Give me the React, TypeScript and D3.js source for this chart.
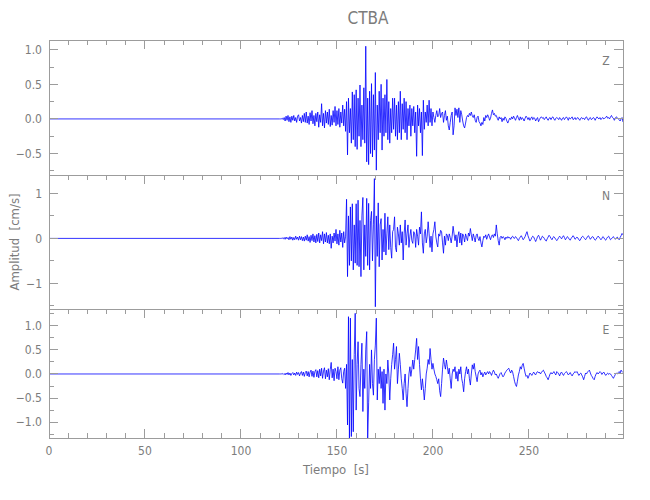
import React from "react";
import * as d3 from "d3";

// ---------------- data ----------------
const TITLE = "CTBA";
const X_LABEL = "Tiempo  [s]";
const Y_LABEL = "Amplitud  [cm/s]";
const COMPONENTS = ["Z", "N", "E"];
const X_TICKS = [0, 50, 100, 150, 200, 250];
const X_DOMAIN = [0, 299];

// record start (flat, pre-event) and sampled window
const T_RECORD_START = 0;
const T_START = 120;
const DT = 0.5;

const zValues = [
  0, 0, 0, 0.01, -0.01, 0.02, -0.03, 0.04, -0.02, 0.05, -0.04, 0.03, -0.05, 0.04, -0.02, 0.05, -0.03, 0.02, -0.05, 0.04,
  0.06, -0.03, 0.02, -0.06, 0.05, -0.04, 0.08, -0.05, 0.1, -0.06, 0.04, -0.08, 0.09, -0.03, 0.12, -0.07, 0.05, -0.1, 0.08, -0.04,
  0.1, -0.12, 0.06, -0.05, 0.22, -0.1, 0.08, -0.13, 0.12, -0.06, 0.1, -0.08, 0.14, -0.11, 0.05, -0.09, 0.12, -0.05, 0.18, -0.1,
  0.12, -0.08, 0.15, -0.12, 0.1, -0.06, 0.2, -0.1, 0.14, -0.18, 0.25, -0.52, 0.3, -0.2, 0.15, -0.35, 0.39, -0.3, 0.35, -0.4,
  0.42, -0.44, 0.3, -0.25, 0.49, -0.4, 0.2, -0.3, 0.45, -0.35, 1.05, -0.62, 0.3, -0.66, 0.4, -0.5, 0.51, -0.55, 0.35, -0.45,
  0.67, -0.74, 0.2, -0.3, 0.4, -0.2, 0.5, -0.45, 0.3, -0.25, 0.35, -0.2, 0.57, -0.3, 0.25, -0.35, 0.15, -0.2, 0.3, -0.15,
  0.3, -0.25, 0.2, -0.3, 0.25, -0.2, 0.4, -0.3, 0.22, -0.15, 0.3, -0.2, 0.25, -0.3, 0.15, -0.1, 0.2, -0.25, 0.15, -0.1,
  0.18, -0.2, 0.1, -0.54, 0.2, -0.1, 0.15, -0.2, 0.1, -0.53, 0.27, -0.15, 0.1, -0.05, 0.2, -0.1, 0.27, -0.05, 0.15, -0.1,
  0.1, 0.02, -0.05, 0.05, 0.12, 0.03, 0.05, 0.15, 0.02, 0.08, 0.1, -0.05, 0.05, 0.12, -0.02, 0.04, -0.1, -0.16, -0.05, 0.05,
  0.1, -0.23, -0.1, 0.16, 0.05, 0.14, 0.02, 0.16, -0.05, 0.12, 0.06, -0.03, -0.1, -0.13, -0.06, 0.02, 0.05, 0.03, 0.08, 0.05,
  0.1, 0.04, 0.02, 0.06, -0.02, -0.05, 0.02, 0.04, -0.04, -0.06, -0.1, -0.05, -0.08, 0.02, -0.03, 0.05, 0.02, 0.06, 0.03, -0.02,
  0.01, 0.08, 0.13, 0.06, 0.08, 0.04, 0.05, 0.01, -0.02, 0.03, 0.0, 0.02, -0.04, 0.01, -0.02, 0.03, 0.01, -0.03, -0.06, -0.02,
  0.01, -0.01, 0.03, 0.0, 0.04, 0.01, -0.02, 0.02, 0.05, 0.01, -0.02, 0.03, -0.01, 0.02, 0.0, -0.03, 0.01, 0.04, 0.02, -0.01,
  0.02, -0.02, 0.01, 0.03, -0.01, 0.02, 0.01, -0.03, 0.0, 0.02, -0.04, -0.01, 0.02, 0.03, 0.01, 0.02, -0.01, 0.01, 0.03, 0.0,
  -0.02, 0.01, 0.02, -0.01, 0.02, 0.03, 0.0, -0.02, 0.01, 0.02, 0.01, -0.01, 0.02, 0.0, -0.02, 0.01, 0.02, -0.01, 0.01, 0.03,
  0.01, -0.02, 0.02, 0.0, 0.01, 0.03, -0.01, 0.0, 0.02, -0.01, 0.01, 0.02, 0.0, -0.02, 0.01, 0.02, 0.0, 0.01, -0.01, 0.02,
  0.03, 0.0, -0.02, 0.01, 0.02, -0.01, 0.0, 0.02, 0.01, -0.02, 0.01, 0.03, 0.01, 0.0, 0.02, -0.01, 0.01, 0.02, 0.0, 0.01,
  0.02, 0.04, 0.01, 0.02, 0.0, 0.03, 0.05, 0.02, 0.01, -0.02, 0.01, 0.03, 0.02, 0.0, -0.01, -0.03, 0.0, 0.02, -0.04, 0.0,
];

const nValues = [
  0, 0, 0, 0.01, -0.01, 0.02, -0.02, 0.03, -0.01, 0.02, -0.03, 0.04, -0.02, 0.03, -0.04, 0.02, -0.03, 0.05, -0.02, 0.03,
  -0.04, 0.05, -0.03, 0.04, -0.05, 0.03, -0.06, 0.05, -0.04, 0.08, -0.06, 0.04, -0.09, 0.07, -0.05, 0.1, -0.08, 0.06, -0.1, 0.09,
  -0.07, 0.12, -0.1, 0.08, -0.05, 0.15, -0.12, 0.1, -0.08, 0.13, -0.1, 0.07, -0.12, 0.1, -0.22, 0.05, -0.1, 0.12, -0.06, 0.2,
  -0.12, 0.1, -0.15, 0.18, -0.08, 0.12, -0.2, 0.15, -0.1, 0.05, 0.87, -0.85, 0.5, -0.6, 0.7, -0.5, 0.77, -0.7, 0.3, -0.55,
  0.77, -0.6, 0.85, -0.63, 0.4, -0.85, 0.5, 0.91, -0.7, 0.3, -0.4, 0.89, -0.6, 0.78, -0.7, 0.4, 0.6, -0.5, 0.3, 1.33,
  -1.52, 0.5, -0.4, 0.79, -0.63, 0.3, 0.44, -0.48, 0.2, -0.3, 0.56, -0.37, 0.1, 0.48, -0.25, 0.3, -0.2, -0.44, 0.15, 0.2,
  0.48, -0.2, -0.3, 0.25, 0.1, -0.15, 0.3, -0.1, 0.15, -0.48, 0.1, 0.41, -0.15, 0.1, 0.3, -0.2, 0.05, 0.2, -0.05, -0.11,
  0.15, 0.1, -0.2, 0.2, 0.05, -0.15, 0.25, 0.1, 0.59, -0.1, -0.33, 0.1, 0.2, -0.1, 0.05, 0.37, 0.1, -0.2, 0.05, -0.3,
  0.1, 0.2, 0.37, 0.05, -0.1, -0.19, 0.1, 0.05, 0.18, 0.15, -0.1, -0.33, 0.05, -0.15, 0.1, 0.07, -0.05, 0.1, 0.02, -0.1,
  0.05, 0.27, 0.1, -0.05, 0.08, -0.19, 0.05, 0.15, -0.1, 0.12, -0.15, 0.1, 0.05, -0.08, 0.1, 0.02, -0.05, 0.12, 0.05, 0.22,
  0.08, -0.05, 0.1, 0.02, -0.08, 0.06, 0.1, 0.0, -0.05, 0.04, -0.1, -0.19, -0.05, 0.05, 0.02, 0.08, -0.02, 0.05, 0.1, 0.03,
  -0.03, 0.05, 0.08, 0.02, 0.1, 0.05, 0.3, 0.1, -0.05, -0.15, 0.02, 0.05, 0.0, 0.04, 0.02, -0.03, 0.03, 0.0, 0.04, 0.01,
  0.02, -0.02, 0.03, 0.05, 0.01, 0.0, 0.04, 0.02, -0.02, -0.05, 0.0, 0.03, 0.06, 0.02, -0.03, 0.0, 0.04, 0.1, 0.15, 0.06,
  0.0, -0.06, -0.03, 0.02, 0.05, 0.03, -0.02, -0.07, -0.02, 0.04, 0.07, 0.02, -0.04, 0.0, 0.05, 0.03, 0.0, -0.04, -0.06, -0.01,
  0.03, 0.07, 0.04, 0.0, -0.03, 0.02, 0.04, 0.01, -0.02, -0.05, -0.02, 0.02, 0.05, 0.02, -0.01, 0.03, 0.06, 0.02, -0.03, 0.0,
  0.04, 0.02, -0.02, -0.04, 0.0, 0.03, 0.06, 0.03, -0.02, 0.0, 0.03, 0.01, -0.03, -0.05, -0.01, 0.03, 0.05, 0.02, 0.0, -0.03,
  0.0, 0.04, 0.06, 0.02, -0.02, 0.01, 0.04, 0.03, -0.01, -0.04, -0.02, 0.02, 0.05, 0.03, 0.0, -0.03, 0.0, 0.04, 0.02, -0.02,
  -0.04, 0.0, 0.03, 0.05, 0.01, -0.03, -0.01, 0.02, 0.04, 0.0, -0.02, 0.01, 0.03, 0.0, -0.03, 0.02, 0.06, 0.11, 0.08, 0.05,
];

const eValues = [
  0, 0, 0, 0.01, -0.01, 0.01, -0.02, 0.02, -0.01, 0.03, -0.02, 0.02, -0.03, 0.01, 0.03, -0.02, 0.02, -0.03, 0.04, -0.01,
  0.03, -0.04, 0.02, 0.05, -0.03, 0.04, -0.05, 0.03, 0.06, -0.04, 0.05, -0.06, 0.04, 0.08, -0.05, 0.06, -0.07, 0.05, 0.09, -0.06,
  0.07, -0.08, 0.1, -0.04, 0.12, -0.09, 0.06, 0.13, -0.1, 0.08, -0.06, 0.11, -0.12, 0.09, 0.24, -0.08, 0.1, -0.14, 0.12, 0.05,
  -0.1, 0.15, -0.12, 0.08, 0.13, -0.1, -0.19, 0.05, 0.12, -0.3, 0.2, -1.06, 1.19, -1.37, 1.16, -1.3, 0.3, -1.2, 0.4, 1.26,
  -0.75, 0.2, 0.67, -0.3, -0.47, 0.2, 0.64, -0.78, 0.1, -0.3, 0.5, 0.88, -1.37, -0.6, 0.2, -0.3, 0.5, -0.2, -0.44, 0.3,
  0.6, 1.16, -0.54, 0.1, -0.2, 0.15, -0.3, 0.05, -0.61, 0.1, -0.75, 0.0, -0.2, 0.29, 0.0, -0.54, -0.1, 0.2, 0.4, 0.64,
  0.1, 0.3, 0.57, -0.2, 0.1, 0.43, 0.2, -0.1, -0.3, -0.54, -0.2, 0.0, -0.4, -0.68, -0.3, 0.0, 0.15, -0.05, 0.1, 0.29,
  0.1, 0.3, 0.5, 0.74, 0.3, 0.57, 0.2, -0.1, -0.33, -0.1, -0.3, -0.54, -0.3, 0.0, 0.12, 0.3, 0.2, 0.53, 0.3, 0.1,
  0.22, 0.1, 0.0, -0.05, -0.12, -0.2, -0.1, -0.35, -0.47, -0.2, 0.1, 0.33, 0.2, 0.1, 0.29, 0.15, 0.0, 0.12, -0.1, -0.3,
  0.0, 0.1, 0.05, 0.15, -0.1, 0.05, -0.15, 0.1, 0.0, 0.15, -0.1, -0.2, -0.37, -0.1, 0.05, 0.15, 0.0, 0.1, -0.1, -0.23,
  0.0, 0.19, 0.1, 0.22, 0.05, -0.05, -0.16, 0.0, 0.05, 0.08, -0.02, 0.03, -0.06, 0.0, 0.04, -0.02, 0.02, 0.05, 0.0, 0.05,
  0.02, -0.03, 0.03, 0.08, 0.04, -0.02, 0.0, -0.05, -0.09, -0.04, 0.01, 0.03, -0.02, -0.06, -0.03, 0.02, 0.05, 0.08, 0.1, 0.12,
  0.06, 0.02, 0.08, 0.04, -0.05, -0.15, -0.22, -0.26, -0.15, -0.02, 0.05, 0.15, 0.1, 0.18, 0.22, 0.12, 0.02, -0.05, -0.03, -0.09,
  -0.04, 0.02, 0.0, -0.03, 0.01, 0.04, 0.0, -0.02, 0.03, 0.05, 0.02, 0.04, 0.0, 0.03, 0.06, 0.08, 0.04, 0.0, -0.05, -0.08,
  -0.12, -0.06, 0.0, 0.03, 0.0, 0.02, 0.05, 0.01, -0.02, 0.05, 0.03, 0.0, -0.04, 0.02, 0.04, 0.0, -0.03, 0.01, 0.03, 0.05,
  0.02, -0.02, 0.0, 0.03, -0.01, -0.04, 0.0, 0.02, 0.05, 0.03, 0.05, 0.01, -0.03, 0.0, 0.02, -0.02, -0.06, -0.12, -0.05, 0.02,
  0.0, 0.04, 0.06, 0.08, 0.02, -0.03, -0.06, -0.1, -0.12, -0.05, 0.0, 0.03, 0.0, 0.02, 0.05, 0.03, -0.01, 0.02, 0.04, 0.0,
  -0.03, 0.0, 0.02, -0.01, 0.01, 0.0, -0.03, -0.06, -0.09, -0.05, -0.01, 0.02, 0.0, 0.03, 0.05, 0.02, 0.08, 0.05, 0.03, 0.03,
];

const Y_DOMAINS = [
  [-0.81, 1.14],
  [-1.57, 1.41],
  [-1.33, 1.35],
];
const Y_MAJOR = [
  [-0.5, 0, 0.5, 1.0],
  [-1, 0, 1],
  [-1.0, -0.5, 0, 0.5, 1.0],
];
const Y_MAJOR_LABELS = [
  ["\u22120.5", "0.0", "0.5", "1.0"],
  ["\u22121", "0", "1"],
  ["\u22121.0", "\u22120.5", "0.0", "0.5", "1.0"],
];
const Y_MINOR = [
  [-0.75, -0.25, 0.25, 0.75],
  [-1.5, -0.5, 0.5],
  [-1.25, -0.75, -0.25, 0.25, 0.75, 1.25],
];
const X_MINOR_STEP = 10;

// ---------------- layout ----------------
const W = 650;
const H = 500;
const LEFT = 49;
const RIGHT = 623;
const PANEL_TOPS = [40, 175, 309];
const PANEL_BOTTOMS = [175, 309, 438];
const AXIS = "#9c9c9c";
const TXT = "#7c7c7c";
const FONT = '"Liberation Sans Narrow", "DejaVu Sans Condensed", "Liberation Sans", sans-serif';

export default function App() {
  const x = d3.scaleLinear().domain(X_DOMAIN).range([LEFT, RIGHT]);
  const traces = [zValues, nValues, eValues];
  const xMinor = d3.range(X_DOMAIN[0], X_DOMAIN[1], X_MINOR_STEP);
  const axisBottom = PANEL_BOTTOMS[PANEL_BOTTOMS.length - 1];

  return (
    <svg
      width={W}
      height={H}
      style={{ position: "absolute", left: 0, top: 0, background: "#fff" }}
      fontFamily={FONT}
    >
      <defs>
        {COMPONENTS.map((c, i) => (
          <clipPath id={`clip-${c}`} key={c}>
            <rect x={LEFT} y={PANEL_TOPS[i]} width={RIGHT - LEFT} height={PANEL_BOTTOMS[i] - PANEL_TOPS[i]} />
          </clipPath>
        ))}
      </defs>
      <rect x={0} y={0} width={W} height={H} fill="#fff" />
      <text x={368} y={24} textAnchor="middle" fontSize={17} fill={TXT}>
        {TITLE}
      </text>

      {COMPONENTS.map((c, i) => {
        const top = PANEL_TOPS[i];
        const bottom = PANEL_BOTTOMS[i];
        const y = d3.scaleLinear().domain(Y_DOMAINS[i]).range([bottom, top]);
        const vals = traces[i];
        const pts: [number, number][] = [[T_RECORD_START, 0]];
        vals.forEach((v, k) => pts.push([T_START + k * DT, v]));
        const line = d3
          .line<[number, number]>()
          .x((d) => x(d[0]))
          .y((d) => y(d[1]));
        return (
          <g key={c}>
            <path
              d={line(pts) || ""}
              fill="none"
              stroke="#0000ff"
              strokeWidth={0.8}
              strokeLinejoin="round"
              clipPath={`url(#clip-${c})`}
            />
            <rect
              x={LEFT}
              y={top}
              width={RIGHT - LEFT}
              height={bottom - top}
              fill="none"
              stroke={AXIS}
              strokeWidth={1}
              shapeRendering="crispEdges"
            />
            {xMinor.map((t) => {
              const major = t % 50 === 0;
              return (
                <line
                  key={`xt${t}`}
                  x1={x(t)}
                  x2={x(t)}
                  y1={top}
                  y2={top + (major ? 9 : 5)}
                  stroke={AXIS}
                  shapeRendering="crispEdges"
                />
              );
            })}
            {i === COMPONENTS.length - 1 &&
              xMinor.map((t) => {
                const major = t % 50 === 0;
                return (
                  <line
                    key={`xb${t}`}
                    x1={x(t)}
                    x2={x(t)}
                    y1={bottom}
                    y2={bottom - (major ? 9 : 5)}
                    stroke={AXIS}
                    shapeRendering="crispEdges"
                  />
                );
              })}
            {Y_MAJOR[i].map((v, k) => (
              <g key={`ym${v}`}>
                <line x1={LEFT} x2={LEFT + 9} y1={y(v)} y2={y(v)} stroke={AXIS} shapeRendering="crispEdges" />
                <line x1={RIGHT} x2={RIGHT - 9} y1={y(v)} y2={y(v)} stroke={AXIS} shapeRendering="crispEdges" />
                <text x={LEFT - 7} y={y(v)} dy="0.36em" textAnchor="end" fontSize={12} fill={TXT}>
                  {Y_MAJOR_LABELS[i][k]}
                </text>
              </g>
            ))}
            {Y_MINOR[i].map((v) => (
              <g key={`yn${v}`}>
                <line x1={LEFT} x2={LEFT + 5} y1={y(v)} y2={y(v)} stroke={AXIS} shapeRendering="crispEdges" />
                <line x1={RIGHT} x2={RIGHT - 5} y1={y(v)} y2={y(v)} stroke={AXIS} shapeRendering="crispEdges" />
              </g>
            ))}
            <text x={606} y={top + 21} dy="0.36em" textAnchor="middle" fontSize={12} fill={TXT}>
              {c}
            </text>
          </g>
        );
      })}

      {X_TICKS.map((t) => (
        <text
          key={`xl${t}`}
          x={x(t)}
          y={axisBottom + 8}
          dy="0.71em"
          textAnchor="middle"
          fontSize={12}
          fill={TXT}
        >
          {t}
        </text>
      ))}
      <text x={336} y={474} textAnchor="middle" fontSize={13} fill={TXT} style={{ whiteSpace: "pre" }}>
        {X_LABEL}
      </text>
      <text
        transform="translate(19,242) rotate(-90)"
        textAnchor="middle"
        fontSize={13}
        fill={TXT}
        style={{ whiteSpace: "pre" }}
      >
        {Y_LABEL}
      </text>
    </svg>
  );
}
